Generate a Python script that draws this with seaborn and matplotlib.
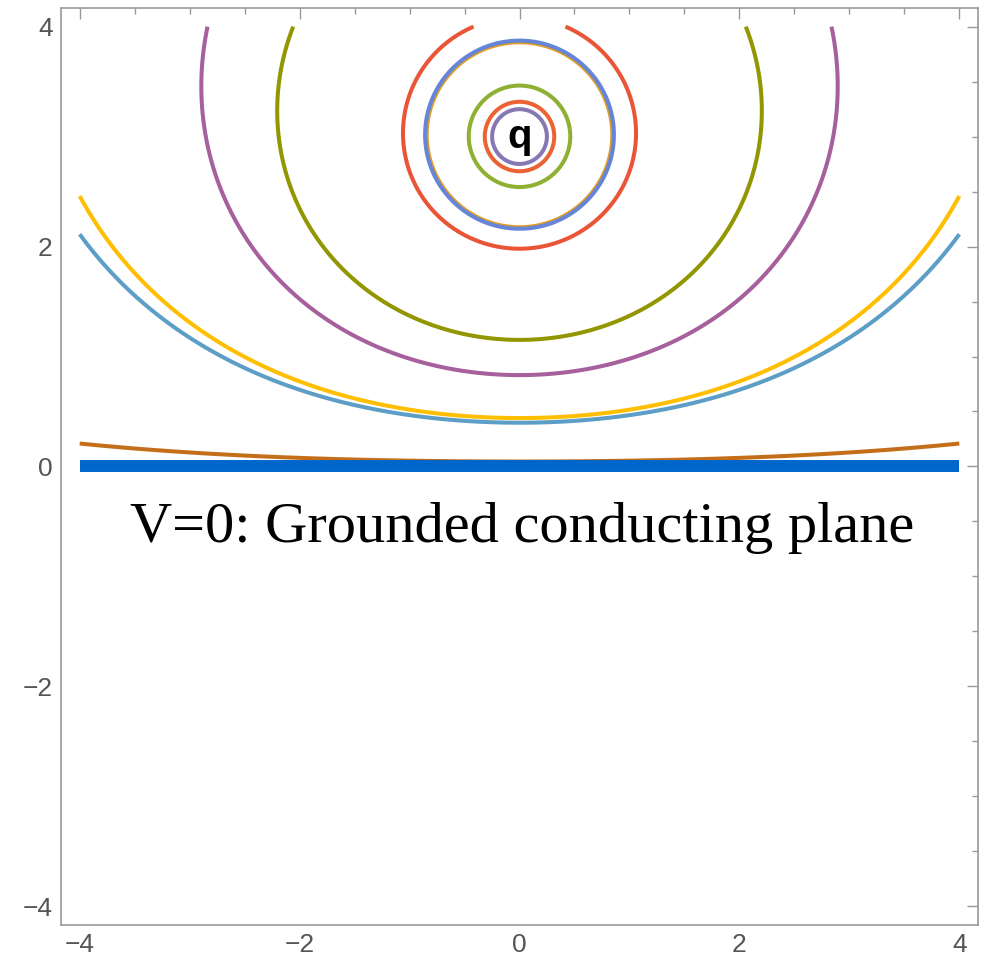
import numpy as np
import matplotlib
matplotlib.use("Agg")
import matplotlib.pyplot as plt
from matplotlib.ticker import MultipleLocator
import seaborn as sns

# point charge q above the grounded plane, image charge -q below it
charge_pos = (0.0, 3.0)
# equipotential levels, in the order they were drawn
levels = [1.02, 2.0, 3.0, 3.85, 0.01, 0.09, 0.1, 0.2, 0.3, 0.78, 1.0]
level_colors = ["#E19C24", "#8FB032", "#EB6235", "#8778B3", "#C56E1A",
                "#5D9EC7", "#FFBF00", "#A5609D", "#929600", "#E95536",
                "#6685D9"]
plane_x = [-4, 4]
plane_y = [0, 0]
ticks_major = [-4, -2, 0, 2, 4]

sns.set_style("white")
plt.rcParams["font.family"] = ["Liberation Sans", "DejaVu Sans"]

fig = plt.figure(figsize=(9.92, 9.59), dpi=100)
ax = fig.add_axes([0.0615, 0.0355, 0.9244, 0.9562])

# potential of charge + image, on the contour plot range
xs = np.linspace(-4.0, 4.0, 801)
ys = np.linspace(0.0, 4.0, 401)
X, Y = np.meshgrid(xs, ys)
r1 = np.hypot(X - charge_pos[0], Y - charge_pos[1])
r2 = np.hypot(X - charge_pos[0], Y + charge_pos[1])
V = 1.0 / np.maximum(r1, 1e-3) - 1.0 / r2

for lev, col in zip(levels, level_colors):
    ax.contour(X, Y, V, levels=[lev], colors=[col], linewidths=2.9)

# the conducting plane
sns.lineplot(x=plane_x, y=plane_y, ax=ax, color="#0066CC", linewidth=8.6,
             solid_capstyle="butt")

ax.text(charge_pos[0], charge_pos[1], "q", fontsize=29, fontweight="bold",
        ha="center", va="center", color="black")
ax.text(0.02, -0.69, "V=0: Grounded conducting plane", fontsize=42,
        family=["Liberation Serif", "DejaVu Serif"], ha="center",
        va="baseline", color="black")

ax.set_xlim(-4.17, 4.17)
ax.set_ylim(-4.17, 4.17)
ax.set_xticks(ticks_major)
ax.set_yticks(ticks_major)
ax.set_xticklabels(["\u22124", "\u22122", "0", "2", "4"])
ax.set_yticklabels(["\u22124", "\u22122", "0", "2", "4"])
ax.xaxis.set_minor_locator(MultipleLocator(0.5))
ax.yaxis.set_minor_locator(MultipleLocator(0.5))
ax.tick_params(which="both", direction="in", top=True, right=True,
               color="#999999", width=1.0, labelcolor="#555555",
               labelsize=19)
ax.tick_params(which="major", length=8)
ax.tick_params(which="minor", length=4.5)
ax.tick_params(axis="x", pad=6)
ax.tick_params(axis="y", pad=6)
for sp in ax.spines.values():
    sp.set_color("#999999")
    sp.set_linewidth(1.2)

fig.savefig("out.png", dpi=100)
